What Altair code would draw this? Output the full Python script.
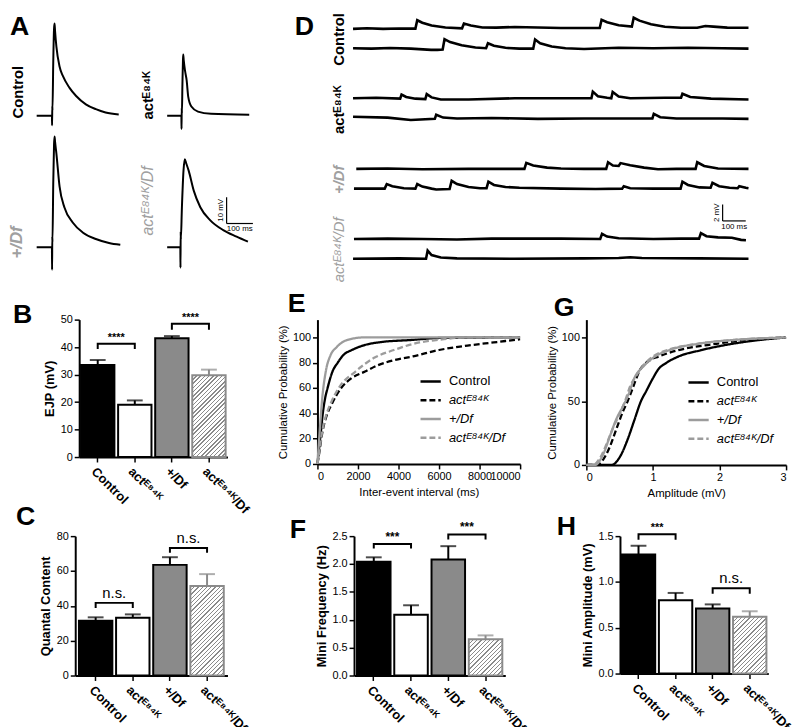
import altair as alt
import pandas as pd

FONT = "Liberation Sans, Arial, DejaVu Sans, sans-serif"
SUP = "ᴱ⁸⁴ᴷ"
CATS = ["Control", "act" + SUP, "+/Df", "act" + SUP + "/Df"]
BAR_GRAY = "#8a8a8a"
LABEL_GRAY = "#a0a0a0"
LINE_GRAY = "#9c9c9c"

# ---------------- Panel A: evoked EJP traces (ms, mV) ----------------
A_CTRL_T = [0, 58, 58.6, 59.4, 60, 63, 66, 68, 70, 75, 87, 100, 125, 150, 187, 225, 262, 312]
A_CTRL_V = [0, 0, -3.6, 3.8, 2, 20, 33, 35, 32, 26.2, 18.7, 15, 10.6, 7.5, 4.35, 2.5, 1.25, 0.5]
A_ACT_T = [0, 54, 54.6, 55.4, 56, 58, 60, 61, 63, 68, 74, 80, 92, 117, 167, 312]
A_ACT_V = [0, 0, -5, 3, 1, 12, 21, 23.2, 21, 17, 13.5, 7.3, 3.5, 1.6, 0.75, 0.4]
A_DF_T = [0, 58, 58.6, 59.4, 60, 63, 66, 68, 70, 75, 87, 106, 137, 175, 225, 275, 318]
A_DF_V = [0, 0, -8.6, 4, 2, 24, 39, 42.1, 40, 35.6, 23.1, 15, 9.4, 5.6, 3.1, 1.6, 0.9]
A_ADF_T = [0, 50, 50.6, 51.4, 52, 56, 62, 67, 72, 82, 101, 126, 164, 213, 264, 307]
A_ADF_V = [0, 0, -7.8, 6, 3, 15, 29, 33.4, 32, 29, 21.5, 15.2, 10.2, 6.5, 4, 2.1]
A_SCALEBAR = {"t": 226, "v": 9, "dt": 100, "dv": 10}

# ---------------- Panel D: spontaneous minis (ms, mV) ----------------
D_CTRL1 = [(0, -0.05), (60, 0.02), (130, -0.05), (200, 0.0), (270, -0.02), (278, 1.0), (300, 0.7), (340, 0.35),
           (400, 0.12), (472, 0.02), (480, 0.6), (510, 0.35), (560, 0.12), (620, 0.1), (700, 0.18), (800, 0.12),
           (900, 0.05), (1000, 0.05), (1068, 0.05), (1076, 1.05), (1100, 0.75), (1150, 0.4), (1207, 0.22),
           (1215, 1.3), (1240, 0.95), (1290, 0.5), (1350, 0.2), (1420, 0.08), (1490, 0.08), (1525, 0.3),
           (1560, 0.22), (1620, 0.1), (1712, 0.08)]
D_CTRL2 = [(0, 0.0), (80, -0.05), (160, 0.03), (250, -0.05), (338, -0.2), (365, -0.2), (388, -0.15), (396, 1.1),
           (420, 0.75), (470, 0.35), (530, 0.1), (576, 0.0), (584, 0.6), (610, 0.3), (660, 0.05), (720, -0.05),
           (780, -0.05), (788, 1.05), (810, 0.6), (860, 0.2), (920, 0.0), (1000, -0.1), (1150, 0.05), (1300, 0.0),
           (1450, 0.05), (1600, 0.0), (1712, -0.05)]
D_ACT1 = [(0, 0.05), (100, 0.1), (204, 0.0), (210, 0.5), (230, 0.2), (270, 0.0), (313, -0.05), (319, 0.55),
          (340, 0.15), (380, -0.1), (500, -0.1), (700, 0.05), (900, 0.05), (1032, 0.05), (1038, 0.85), (1060, 0.3),
          (1100, 0.1), (1118, 0.05), (1124, 0.8), (1150, 0.25), (1200, 0.05), (1350, 0.1), (1420, 0.12),
          (1426, 0.6), (1460, 0.2), (1550, 0.0), (1712, -0.1)]
D_ACT2 = [(0, 0.2), (150, 0.1), (250, -0.2), (354, -0.05), (360, 0.45), (390, 0.1), (450, 0.0), (600, 0.05),
          (800, -0.05), (1000, 0.0), (1296, 0.0), (1302, 0.55), (1330, 0.15), (1400, 0.0), (1600, 0.0),
          (1712, -0.05)]
D_DF1 = [(14, 0.0), (150, 0.05), (300, -0.05), (500, 0.0), (742, 0.0), (750, 0.72), (780, 0.4), (840, 0.15),
         (900, 0.05), (1000, 0.0), (1096, 0.0), (1104, 0.8), (1125, 0.4), (1150, 0.35), (1158, 0.7), (1200, 0.45),
         (1260, 0.15), (1320, -0.05), (1400, 0.0), (1483, 0.0), (1490, 0.8), (1520, 0.35), (1580, 0.05),
         (1712, 0.0)]
D_DF2 = [(4, 0.0), (137, 0.0), (146, 0.55), (170, 0.3), (220, 0.05), (270, 0.0), (278, 0.55), (300, 0.25),
         (340, 0.0), (360, -0.1), (418, -0.05), (427, 0.95), (450, 0.55), (500, 0.2), (550, 0.05), (578, 0.05),
         (586, 0.85), (610, 0.45), (660, 0.2), (720, 0.1), (900, 0.0), (1050, -0.05), (1165, 0.0), (1172, 0.28),
         (1200, 0.05), (1300, 0.0), (1418, 0.0), (1426, 0.85), (1450, 0.45), (1500, 0.15), (1548, 0.1),
         (1556, 0.7), (1585, 0.3), (1630, 0.1), (1665, 0.05), (1672, 0.3), (1700, 0.1), (1712, 0.05)]
D_ADF1 = [(4, 0.0), (150, 0.05), (300, 0.0), (450, -0.05), (600, 0.05), (900, 0.05), (1070, 0.0), (1078, 0.64),
          (1100, 0.3), (1150, 0.1), (1300, 0.0), (1420, 0.05), (1498, 0.05), (1506, 0.72), (1530, 0.35),
          (1580, 0.2), (1640, 0.15), (1680, -0.1), (1701, -0.15)]
D_ADF2 = [(0, 0.0), (200, 0.05), (316, 0.0), (323, 1.0), (340, 0.45), (380, 0.15), (450, 0.05), (700, 0.0),
          (1000, 0.05), (1150, 0.1), (1200, 0.2), (1250, 0.1), (1500, 0.05), (1712, 0.0)]
D_SCALEBAR = {"t": 1600, "v": 2.2, "dt": 100, "dv": 2}

# ---------------- Bar panels ----------------
B_VAL = [33.5, 19.0, 43.2, 29.8]
B_ERR = [35.3, 20.6, 44.0, 31.8]
B_BRACKETS = [(0, 1, 41.2, 39.3, "****"), (2, 3, 48.5, 46.3, "****")]
C_VAL = [31.5, 33.2, 63.5, 51.4]
C_ERR = [33.4, 35.1, 67.9, 58.2]
C_BRACKETS = [(0, 1, 41.7, 38.7, "n.s."), (2, 3, 73.2, 70.5, "n.s.")]
F_VAL = [2.04, 1.09, 2.08, 0.65]
F_ERR = [2.12, 1.26, 2.32, 0.72]
F_BRACKETS = [(0, 1, 2.36, 2.28, "***"), (2, 3, 2.53, 2.44, "***")]
H_VAL = [1.30, 0.80, 0.71, 0.62]
H_ERR = [1.395, 0.88, 0.755, 0.68]
H_BRACKETS = [(0, 1, 1.52, 1.46, "***"), (2, 3, 0.93, 0.87, "n.s.")]

# ---------------- Cumulative distributions ----------------
E_CTRL = [(0, 0), (100, 15), (175, 26), (250, 38), (380, 52), (500, 60), (742, 73), (1000, 80), (1277, 86),
          (1700, 90), (2350, 94), (3000, 96), (4700, 98), (6000, 99.5), (10000, 100)]
E_ACT = [(0, 0), (100, 10), (253, 26), (450, 38), (697, 47), (1170, 60), (1700, 68), (2350, 73), (2980, 78),
         (3800, 82), (4715, 85), (6000, 90), (7400, 93.5), (8700, 96), (10000, 98.5)]
E_DF = [(0, 0), (113, 26), (237, 52), (411, 73), (648, 86), (930, 92), (1485, 98), (2350, 100), (10000, 100)]
E_ADF = [(0, 0), (100, 11), (240, 26), (420, 38), (660, 48), (1050, 60), (1877, 73), (2820, 84), (3770, 90),
         (5030, 96), (5975, 98), (7400, 100), (10000, 100)]
G_CTRL = [(0, 0), (0.38, 0), (0.5, 6), (0.62, 20), (0.72, 35), (0.82, 50), (0.9, 58), (1.0, 68), (1.08, 75),
          (1.2, 80), (1.38, 85), (1.72, 90), (2.19, 95), (2.6, 98), (3.0, 100)]
G_ACT = [(0, 0), (0.15, 0), (0.25, 4), (0.35, 14), (0.45, 28), (0.55, 42), (0.62, 50), (0.68, 58), (0.81, 75),
         (0.95, 82), (1.08, 85), (1.38, 90), (1.95, 95), (2.5, 98.5), (3.0, 100)]
G_DF = [(0, 0), (0.13, 0), (0.25, 8), (0.35, 22), (0.45, 36), (0.55, 46), (0.63, 55), (0.72, 68), (0.87, 78),
        (1.0, 84), (1.24, 90), (1.67, 95), (2.2, 98), (3.0, 100)]
G_ADF = [(0, 0), (0.1, 0), (0.2, 5), (0.3, 16), (0.4, 29), (0.5, 40), (0.58, 50), (0.66, 62), (0.75, 70),
         (0.87, 79), (1.0, 85), (1.24, 90.5), (1.67, 95), (2.2, 98), (3.0, 100)]


def spacer(w, h):
    sc = alt.Scale(domain=[0, 1])
    return alt.Chart(pd.DataFrame({"s": [0, 1]})).mark_point(opacity=0, size=1).encode(
        x=alt.X("s:Q", axis=None, scale=sc), y=alt.Y("s:Q", axis=None, scale=sc)).properties(width=w, height=h)


def letter_mark(text, x, y):
    """Panel letter; (x, y) = left end of its baseline, relative to the panel's plot area."""
    return alt.Chart(pd.DataFrame({"t": [text]})).mark_text(
        align="left", baseline="alphabetic", fontSize=27, fontWeight="bold", font=FONT, color="black").encode(
        x=alt.value(x), y=alt.value(y), text="t:N")


def row_label(text, x, y, size, weight, style, color):
    """Vertical genotype label to the left of a trace."""
    return alt.Chart(pd.DataFrame({"t": [text]})).mark_text(
        angle=270, align="center", baseline="bottom", fontSize=size, fontWeight=weight, fontStyle=style,
        font=FONT, color=color).encode(x=alt.value(x), y=alt.value(y), text="t:N")


def trace_layer(t, v, xdom, ydom, sw, interp):
    df = pd.DataFrame({"t": t, "v": v})
    return alt.Chart(df).mark_line(color="black", strokeWidth=sw, interpolate=interp).encode(
        x=alt.X("t:Q", axis=None, scale=alt.Scale(domain=xdom, nice=False, zero=False)),
        y=alt.Y("v:Q", axis=None, scale=alt.Scale(domain=ydom, nice=False, zero=False)),
        order=alt.Order("t:Q"))


def scalebar_layers(sb, xunit, yunit):
    df = pd.DataFrame({"t": [sb["t"]], "t2": [sb["t"] + sb["dt"]], "v": [sb["v"]], "v2": [sb["v"] + sb["dv"]],
                       "vm": [sb["v"] + sb["dv"] / 2], "tm": [sb["t"] + sb["dt"] / 2]})
    base = alt.Chart(df)
    X = lambda f: alt.X(f, axis=None)
    Y = lambda f: alt.Y(f, axis=None)
    vert = base.mark_rule(color="black", strokeWidth=1.2).encode(x=X("t:Q"), y=Y("v:Q"), y2="v2:Q")
    hor = base.mark_rule(color="black", strokeWidth=1.2).encode(x=X("t:Q"), x2="t2:Q", y=Y("v:Q"))
    vt = base.mark_text(angle=270, fontSize=8, baseline="bottom", dy=-2, font=FONT).encode(
        x=X("t:Q"), y=Y("vm:Q"), text=alt.value(yunit))
    ht = base.mark_text(fontSize=8, baseline="top", dy=2, font=FONT).encode(
        x=X("tm:Q"), y=Y("v:Q"), text=alt.value(xunit))
    return [vert, hor, vt, ht]


# ---------------- Panel A ----------------
A_X = [0, 312]
A_Y1 = [-5.5, 37.8]
A_Y2 = [-9.5, 43.5]
ctrl = alt.layer(trace_layer(A_CTRL_T, A_CTRL_V, A_X, A_Y1, 2, "monotone"), letter_mark("A", -27, 19),
                 row_label("Control", -11, 77, 15, "bold", "normal", "black")).properties(width=83, height=115.5)
act = alt.layer(trace_layer(A_ACT_T, A_ACT_V, A_X, A_Y1, 2, "monotone"),
                row_label("act" + SUP, -11, 80, 15, "bold", "normal", "black")).properties(width=83, height=115.5)
dfc = alt.layer(trace_layer(A_DF_T, A_DF_V, A_X, A_Y2, 2, "monotone"),
                row_label("+/Df", -11, 111, 17, "bold", "italic", LABEL_GRAY)).properties(width=83, height=141)
adf = alt.layer(trace_layer(A_ADF_T, A_ADF_V, A_X, A_Y2, 2, "monotone"),
                *scalebar_layers(A_SCALEBAR, "100 ms", "10 mV"),
                row_label("act" + SUP + "/Df", -11, 69, 16, "normal", "italic", LABEL_GRAY)).properties(
    width=83, height=141)

A = alt.concat(ctrl, spacer(49, 1), act, dfc, spacer(49, 1), adf, columns=3, bounds="flush",
               spacing={"row": 2, "column": 0})

# ---------------- Panel D ----------------
D_X = [0, 1712]
D_Y = [-0.9, 1.5]
D_W = 400


def dtrace(pts, extra=None):
    lay = trace_layer([p[0] for p in pts], [p[1] for p in pts], D_X, D_Y, 2.6, "linear")
    if extra:
        lay = alt.layer(lay, *extra)
    return lay.properties(width=D_W, height=20)


def dlabel(text, color, weight, style):
    return row_label(text, -6, 23.5, 15, weight, style, color)


D = alt.vconcat(
    dtrace(D_CTRL1, extra=[letter_mark("D", -59, 19), dlabel("Control", "black", "bold", "normal")]),
    dtrace(D_CTRL2), spacer(1, 31),
    dtrace(D_ACT1, extra=[dlabel("act" + SUP, "black", "bold", "normal")]), dtrace(D_ACT2), spacer(1, 31),
    dtrace(D_DF1, extra=[dlabel("+/Df", LABEL_GRAY, "bold", "italic")]), dtrace(D_DF2), spacer(1, 31),
    dtrace(D_ADF1, extra=[dlabel("act" + SUP + "/Df", LABEL_GRAY, "normal", "italic")]
           + scalebar_layers(D_SCALEBAR, "100 ms", "2 mV")),
    dtrace(D_ADF2),
    spacing=0, bounds="flush")


# ---------------- bar panels ----------------
def hatch_fill(w, h, period=4.3, lw=1.4):
    L = w + h
    stops = []
    k = 0
    while k * period < L:
        a = k * period / L
        b = min((k * period + lw) / L, 1.0)
        c = min((k + 1) * period / L, 1.0)
        stops += [(a, BAR_GRAY), (b, BAR_GRAY), (b, "white"), (c, "white")]
        k += 1
    cc = (1 / h + 1 / w) / (1 / h ** 2 + 1 / w ** 2)
    return alt.LinearGradient(gradient="linear",
                              stops=[alt.GradientStop(offset=o, color=col) for o, col in stops],
                              x1=0, y1=0, x2=cc / h, y2=cc / w)


def bar_panel(vals, errs, brackets, ytitle, ymax, step, fmt, width, height, p_outer, letter, star_size):
    df = pd.DataFrame({"g": CATS, "v": vals, "e": errs})
    xscale = alt.Scale(domain=CATS, paddingInner=0.1, paddingOuter=p_outer)
    xaxis = alt.Axis(title=None, labelAngle=45, labelAlign="left", labelBaseline="top", labelFontSize=13,
                     labelFontWeight="bold", labelColor="black", labelPadding=3, labelOverlap=False,
                     labelLimit=200, domainWidth=2, domainColor="black", tickSize=5, tickWidth=1.5,
                     tickColor="black", labelFont=FONT)
    ticks = []
    t = 0.0
    while t <= ymax + 1e-9:
        ticks.append(round(t, 3))
        t += step
    yaxis = alt.Axis(title=ytitle, values=ticks, format=fmt, grid=False, domainWidth=2, domainColor="black",
                     tickColor="black", tickWidth=1.5, tickSize=5, labelFontSize=11, labelColor="black",
                     labelPadding=2, titleFontSize=13, titleFontWeight="bold", titleColor="black",
                     titlePadding=4, labelFont=FONT, titleFont=FONT)
    yscale = alt.Scale(domain=[0, ymax], nice=False)
    X = alt.X("g:N", sort=CATS, scale=xscale, axis=xaxis)

    def Y(f):
        return alt.Y(f, scale=yscale, axis=yaxis)

    base = alt.Chart(df)
    solid = base.transform_filter(alt.datum.g != CATS[3]).mark_bar(stroke="black", strokeWidth=2).encode(
        x=X, y=Y("v:Q"),
        fill=alt.Fill("g:N", scale=alt.Scale(domain=CATS[:3], range=["black", "white", BAR_GRAY]), legend=None))
    stepw = width / (4 - 0.1 + 2 * p_outer)
    hh = vals[3] / ymax * height
    hatched = base.transform_filter(alt.datum.g == CATS[3]).mark_bar(
        fill=hatch_fill(stepw * 0.9, hh), stroke=BAR_GRAY, strokeWidth=2).encode(x=X, y=Y("v:Q"))
    ecol = alt.Color("g:N", scale=alt.Scale(domain=CATS, range=["black", "black", "black", BAR_GRAY]), legend=None)
    stem = base.mark_rule(strokeWidth=2).encode(x=X, y=Y("v:Q"), y2="e:Q", color=ecol)
    cap = base.mark_tick(orient="horizontal", size=16, thickness=2).encode(x=X, y=Y("e:Q"), color=ecol)

    rows = []
    trows = []
    for i, (a, b, lev, tk, txt) in enumerate(brackets):
        rows += [(i, 0, CATS[a], tk), (i, 1, CATS[a], lev), (i, 2, CATS[b], lev), (i, 3, CATS[b], tk)]
        trows.append((CATS[a], lev, txt))
    bdf = pd.DataFrame(rows, columns=["id", "o", "g", "y"])
    tdf = pd.DataFrame(trows, columns=["g", "y", "t"])
    br = alt.Chart(bdf).mark_line(color="black", strokeWidth=2).encode(
        x=X, y=Y("y:Q"), detail="id:N", order="o:Q")
    layers = [solid, hatched, stem, cap, br]
    for txt in sorted(set(tdf["t"])):
        sub = tdf[tdf["t"] == txt]
        if txt == "n.s.":
            mk = dict(fontSize=15, fontWeight="normal", dy=-5)
        else:
            mk = dict(fontSize=star_size, fontWeight="bold", dy=-3)
        layers.append(alt.Chart(sub).mark_text(dx=stepw / 2, baseline="alphabetic", font=FONT, color="black",
                                               **mk).encode(x=X, y=Y("y:Q"), text="t:N"))
    layers.append(letter_mark(*letter))
    return alt.layer(*layers).properties(width=width, height=height)


B = bar_panel(B_VAL, B_ERR, B_BRACKETS, "EJP (mV)", 50, 10, "d", 150, 139, 0.05, ("B", -67, 3), 11)
C = bar_panel(C_VAL, C_ERR, C_BRACKETS, "Quantal Content", 80, 20, "d", 154, 141, 0.1, ("C", -60, -11), 11)
F = bar_panel(F_VAL, F_ERR, F_BRACKETS, "Mini Frequency (Hz)", 2.5, 0.5, ".1f", 153, 141, 0.08,
              ("F", -65, 2), 12)
H = bar_panel(H_VAL, H_ERR, H_BRACKETS, "Mini Amplitude (mV)", 1.5, 0.5, ".1f", 150, 139, 0.05,
              ("H", -64, -1), 11)


# ---------------- cumulative panels ----------------
def cum_panel(series, xtitle, xdom, xticks, ymax, yticks, width, height, legx, legy, letter):
    rows = []
    for name, pts in zip(CATS, series):
        for x, y in pts:
            rows.append((name, x, y))
    df = pd.DataFrame(rows, columns=["g", "x", "y"])
    leg = alt.Legend(orient="none", legendX=legx, legendY=legy, title=None, symbolType="stroke", symbolSize=420,
                     symbolStrokeWidth=2.5, labelFontSize=13, labelOffset=7, rowPadding=0, labelFont=FONT,
                     labelColor="black", labelFontStyle={"expr": "datum.label == 'Control' ? 'normal' : 'italic'"})
    lines = alt.Chart(df).mark_line(strokeWidth=2.3, interpolate="monotone").encode(
        x=alt.X("x:Q", scale=alt.Scale(domain=xdom, nice=False),
                axis=alt.Axis(title=xtitle, values=xticks, format="d", grid=False, domainWidth=2, tickWidth=1.5,
                              tickSize=5, labelFontSize=11, titleFontSize=11.5, titleFontWeight="normal",
                              titlePadding=5, labelFont=FONT, titleFont=FONT, labelOverlap=False)),
        y=alt.Y("y:Q", scale=alt.Scale(domain=[0, ymax], nice=False),
                axis=alt.Axis(title="Cumulative Probability (%)", values=yticks, format="d", grid=False,
                              domainWidth=2, tickWidth=1.5, tickSize=5, labelFontSize=11, titleFontSize=11.5,
                              titleFontWeight="normal", titlePadding=4, labelFont=FONT, titleFont=FONT)),
        color=alt.Color("g:N", scale=alt.Scale(domain=CATS, range=["black", "black", LINE_GRAY, LINE_GRAY]),
                        legend=leg),
        strokeDash=alt.StrokeDash("g:N", scale=alt.Scale(domain=CATS, range=[[1, 0], [6, 3], [1, 0], [6, 3]]),
                                  legend=leg),
        order=alt.Order("x:Q"),
    )
    return alt.layer(lines, letter_mark(*letter)).properties(width=width, height=height)


E = cum_panel([E_CTRL, E_ACT, E_DF, E_ADF], "Inter-event interval (ms)", [0, 10000],
              [0, 2000, 4000, 6000, 8000, 10000], 114, [0, 20, 40, 60, 80, 100], 205, 146, 103, 51,
              ("E", -30, -8))
G = cum_panel([G_CTRL, G_ACT, G_DF, G_ADF], "Amplitude (mV)", [0, 3], [0, 1, 2, 3], 114, [0, 50, 100],
              202, 147, 102, 52, ("G", -33, -4))

top = alt.hconcat(A, D, spacing=41)
row2 = alt.hconcat(spacer(43, 1), B, spacer(91, 1), E, spacer(67, 1), G, spacing=0, bounds="flush").resolve_scale(
    color="independent", strokeDash="independent", fill="independent")
row3 = alt.hconcat(spacer(39, 1), C, spacer(128, 1), F, spacer(116, 1), H, spacing=0, bounds="flush").resolve_scale(
    color="independent", fill="independent")
lower = alt.vconcat(row2, row3, spacing=-13).resolve_scale(
    color="independent", strokeDash="independent", fill="independent")

chart = alt.vconcat(top, lower, spacing=7).resolve_scale(
    color="independent", strokeDash="independent", fill="independent").properties(padding=0).configure(
    font=FONT).configure_view(strokeWidth=0).configure_axis(
    domainColor="black", tickColor="black", labelColor="black", titleColor="black")

chart.save("out.html", embed_options={"renderer": "svg", "actions": False})
